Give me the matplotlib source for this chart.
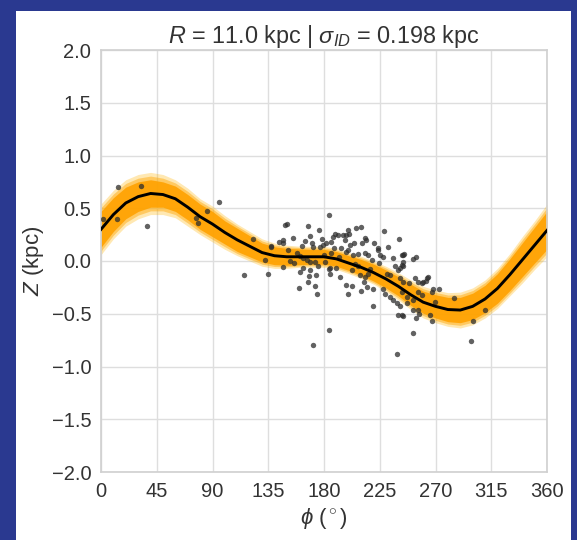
import numpy as np
import matplotlib.pyplot as plt
import matplotlib.patches as mpatches

plt.rcParams['font.family'] = ['Liberation Sans', 'DejaVu Sans']
plt.rcParams['mathtext.fontset'] = 'custom'
plt.rcParams['mathtext.rm'] = 'Liberation Sans'
plt.rcParams['mathtext.it'] = 'Liberation Sans:italic'
plt.rcParams['mathtext.bf'] = 'Liberation Sans:bold'

# ----- model curve (mean) and band half-widths, every 10 deg -----
phi_grid = np.arange(0, 361, 10)
z_mean = np.array([0.30, 0.44, 0.55, 0.61, 0.64, 0.63, 0.59, 0.51, 0.42, 0.35,
                   0.27, 0.20, 0.14, 0.08, 0.05, 0.04, 0.04, 0.04, 0.04, 0.02,
                   -0.02, -0.06, -0.11, -0.17, -0.24, -0.32, -0.39, -0.43, -0.46, -0.465,
                   -0.43, -0.36, -0.26, -0.13, 0.01, 0.15, 0.29])
hw_inner = np.array([0.17, 0.16, 0.15, 0.14, 0.13, 0.12, 0.12, 0.12, 0.12, 0.12,
                     0.11, 0.11, 0.10, 0.09, 0.085, 0.08, 0.075, 0.07, 0.07, 0.07,
                     0.07, 0.075, 0.08, 0.085, 0.09, 0.10, 0.105, 0.11, 0.115, 0.12,
                     0.125, 0.13, 0.14, 0.15, 0.16, 0.17, 0.18])
hw_outer = np.array([0.24, 0.23, 0.22, 0.21, 0.20, 0.19, 0.18, 0.18, 0.17, 0.17,
                     0.16, 0.15, 0.14, 0.13, 0.12, 0.11, 0.10, 0.10, 0.10, 0.10,
                     0.10, 0.105, 0.11, 0.12, 0.13, 0.14, 0.15, 0.155, 0.16, 0.17,
                     0.175, 0.18, 0.19, 0.20, 0.22, 0.23, 0.25])

# ----- observed stars -----
obs_phi = np.array([
    2, 12.6, 14, 32, 37, 76.7, 78, 85.5, 95.5, 115.7, 123,
    148.5, 150, 167, 176, 184, 168.7, 144, 147, 147, 137, 162, 170, 171.5, 177, 182,
    151, 132, 152.5, 160.6, 163, 166, 168.7, 172.7, 181, 146.6, 134.5, 163, 160.6,
    168.7, 175.4, 168, 173.5, 160, 172.7, 174.6, 184, 184, 170.8, 137, 167,
    186, 187.5, 189, 191.5, 197, 198, 199.6, 200.4, 195.6, 206, 209.8,
    204.4, 210.4, 213, 213.9, 220.6, 223.3, 223.8, 228.6, 231.8, 236, 240.5, 242.6, 244.8,
    184.8, 190, 184.8, 193, 197.7, 199.6, 203.6, 207.7, 213, 215.7,
    202.3, 207.7, 209, 213, 215.7, 212.5, 198, 202.3, 209.8, 214.5, 199, 219.7, 219.7,
    227.8, 229.2, 233.2, 235.9, 238.6, 240, 243,
    218.5, 224, 230.5, 233.2, 237.3, 240, 242.6, 225, 228,
    243.5, 243.5, 252, 254, 241, 244, 253.4, 256, 258.8, 260, 262.3,
    242.6, 246.7, 252, 256, 258.8, 266.8, 268.2, 273, 269.6,
    243.5, 254, 257, 265.6, 267, 285, 310, 300, 252, 239, 299,
    241, 244, 249, 263, 264, 252, 256, 241, 246.7,
    155, 158, 165, 178, 180, 188, 192, 156, 179, 186, 194, 201, 205, 217,
])
obs_z = np.array([
    0.40, 0.40, 0.70, 0.71, 0.33, 0.41, 0.36, 0.47, 0.56, -0.13, 0.21,
    0.34, 0.35, 0.33, 0.29, 0.44, 0.24, 0.18, 0.20, 0.17, 0.14, 0.14, 0.17, 0.135, 0.135, 0.17,
    0.10, 0.01, 0.0, 0.05, 0.025, 0.01, -0.01, -0.01, -0.01, -0.06, -0.12, -0.07, -0.10,
    -0.085, -0.05, -0.14, -0.13, -0.26, -0.24, -0.31, -0.08, -0.65, -0.80, 0.13, -0.20,
    0.18, 0.23, 0.26, 0.25, 0.20, 0.25, 0.29, 0.26, 0.25, 0.31, 0.32,
    0.17, 0.17, 0.215, 0.20, 0.17, 0.12, 0.10, 0.28, 0.135, 0.025, 0.205, 0.06, 0.07,
    -0.07, -0.07, -0.12, -0.15, 0.09, 0.10, 0.06, 0.07, 0.08, 0.06,
    -0.085, -0.05, -0.13, -0.15, -0.12, -0.20, -0.23, -0.24, -0.28, -0.25, -0.31, -0.27, -0.43,
    -0.27, -0.31, -0.34, -0.37, -0.40, -0.51, -0.51,
    0.01, -0.02, -0.12, -0.13, -0.05, -0.085, -0.04, 0.06, 0.04,
    0.06, -0.01, 0.015, 0.035, -0.16, -0.20, -0.165, -0.20, -0.21, -0.20, -0.19,
    -0.29, -0.34, -0.37, -0.29, -0.32, -0.29, -0.27, -0.27, -0.39,
    -0.52, -0.54, -0.505, -0.51, -0.57, -0.35, -0.46, -0.57, -0.68, -0.88, -0.76,
    -0.07, -0.05, -0.21, -0.165, -0.15, -0.46, -0.465, -0.43, -0.40,
    0.22, 0.08, 0.19, 0.21, 0.06, 0.12, 0.04, -0.02, 0.15, 0.08, 0.12, 0.15, -0.03, -0.08,
])

xticks = np.arange(0, 361, 45)
yticks = np.arange(-2.0, 2.01, 0.5)

# ----- figure -----
fig = plt.figure(figsize=(5.77, 5.40), dpi=100)
fig.patch.set_facecolor('#2a3990')
fig.patches.append(mpatches.Rectangle((16 / 577, 0), (571 - 16) / 577, 1 - 11 / 540,
                                      transform=fig.transFigure, facecolor='white',
                                      edgecolor='none', zorder=-10))

ax = fig.add_axes([101 / 577, 1 - 472 / 540, 446 / 577, 422 / 540])
ax.set_facecolor('white')

# band
ax.fill_between(phi_grid, z_mean - hw_outer, z_mean + hw_outer,
                color='#ffb300', alpha=0.3, linewidth=0, zorder=2)
ax.fill_between(phi_grid, z_mean - (hw_inner + hw_outer) / 2, z_mean + (hw_inner + hw_outer) / 2,
                color='#ffa500', alpha=0.45, linewidth=0, zorder=2)
ax.fill_between(phi_grid, z_mean - hw_inner, z_mean + hw_inner,
                color='#ffa200', alpha=0.9, linewidth=0, zorder=2)

# data
ax.scatter(obs_phi, obs_z, s=15, color='#2e2e2e', alpha=0.75, linewidths=0, zorder=3)

# mean
ax.plot(phi_grid, z_mean, color='black', linewidth=2.1, zorder=4)

ax.set_xlim(0, 360)
ax.set_ylim(-2, 2)
ax.set_xticks(xticks)
ax.set_yticks(yticks)
ax.set_xticklabels([str(t) for t in xticks])
ax.set_yticklabels(['\u2212%.1f' % abs(t) if t < 0 else '%.1f' % t for t in yticks])
ax.tick_params(length=0, labelsize=14.5, labelcolor='#333333', pad=7)

ax.grid(True, color='#dedede', linewidth=1)
ax.set_axisbelow(True)
for sp in ax.spines.values():
    sp.set_color('#d0d0d0')
    sp.set_linewidth(1.2)

ax.set_title(r'$R$ = 11.0 kpc | $\sigma_{ID}$ = 0.198 kpc', fontsize=16.8, color='#333333', pad=4)
ax.set_xlabel(r'$\phi$ ($^\circ$)', fontsize=16, color='#333333', labelpad=4)
ax.set_ylabel(r'$Z$ (kpc)', fontsize=16, color='#333333', labelpad=4)

fig.savefig('out.png', dpi=100, facecolor=fig.get_facecolor())
